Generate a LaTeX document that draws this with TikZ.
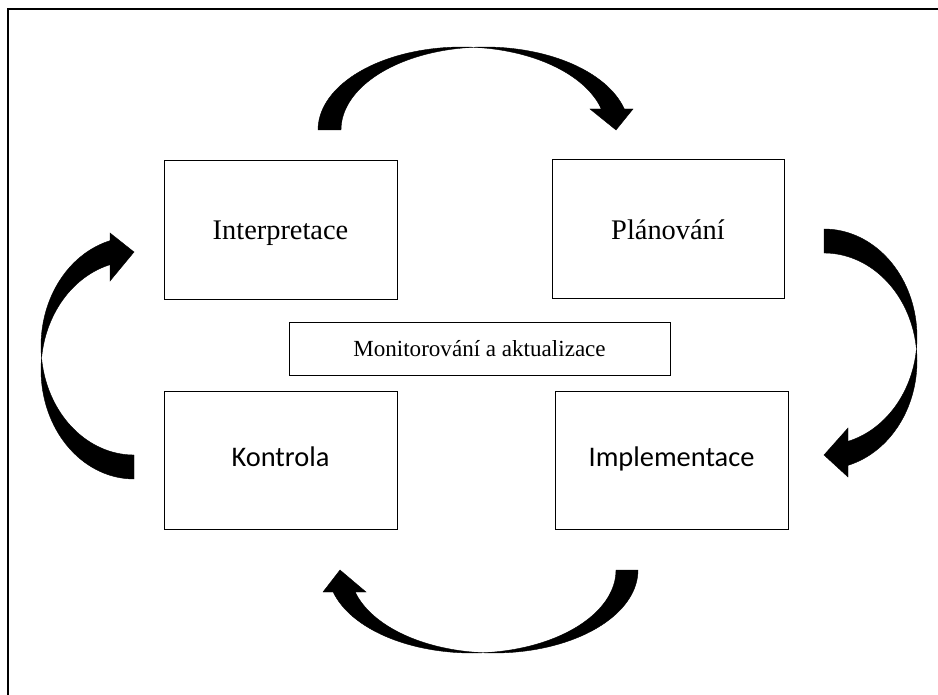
\documentclass[tikz,border=0pt]{standalone}
\usepackage{fontspec}
\setmainfont{Liberation Serif}
\newfontfamily\carlito{Carlito}
\begin{document}
\begin{tikzpicture}[x=0.75pt,y=-0.75pt,samples=40,variable=\t,
  box/.style={draw=black, line width=0.75pt, inner sep=0pt, outer sep=0pt,
    minimum width=174.75pt, minimum height=103.5pt, text depth=0pt,
    font=\fontsize{21.3}{25}\selectfont},
  sansbox/.style={box, text height=9pt, font=\carlito\fontsize{21.3}{25}\selectfont},
  blk/.style={fill=black, draw=black, line width=0.3pt, line join=miter}]
\useasboundingbox (0,0) rectangle (938,695);
% frame (only top and left edges visible)
\draw[line width=1.4pt] (8,700) -- (8,9) -- (945,9);
% boxes
\node[box, text height=15pt] (interp) at (280.5,230) {Interpretace};
\node[box, text height=16.5pt, minimum width=174pt] (plan) at (668,229) {Plánování};
\node[box, text height=12.3pt, minimum width=285.75pt, minimum height=39.75pt,
      font=\fontsize{17.3}{20}\selectfont] (monit) at (479.5,348.5) {Monitorování a aktualizace};
\node[sansbox] (kontr) at (280.5,460) {Kontrola};
\node[sansbox] (impl) at (671.5,460) {Implementace};
% top curved arrow
\fill[blk] (318,130)
 -- plot[domain=180:274.6] ({462+144*cos(\t)},{130+83*sin(\t)})
 -- plot[domain=265.4:345.34] ({485+144*cos(\t)},{130+83*sin(\t)})
 -- (633,109) -- (616,130) -- (590,109)
 -- plot[domain=345.34:274.6] ({462+144*cos(\t)},{130+83*sin(\t)})
 -- plot[domain=265.4:180] ({485+144*cos(\t)},{130+83*sin(\t)})
 -- cycle;
% right curved arrow
\fill[blk] (824,229)
 -- plot[domain=-90:6.38] ({824+93*cos(\t)},{337+108*sin(\t)})
 -- plot[domain=-6.38:75.05] ({824+93*cos(\t)},{361+108*sin(\t)})
 -- (848,477) -- (824,455) -- (848,428)
 -- plot[domain=75.05:6.38] ({824+93*cos(\t)},{337+108*sin(\t)})
 -- plot[domain=-6.38:-90] ({824+93*cos(\t)},{361+108*sin(\t)})
 -- cycle;
% left curved arrow
\fill[blk] (134,479)
 -- plot[domain=90:186.32] ({134+93*cos(\t)},{370+109*sin(\t)})
 -- plot[domain=173.68:255.05] ({134+93*cos(\t)},{346+109*sin(\t)})
 -- (110,233) -- (134,252) -- (110,281)
 -- plot[domain=255.05:186.32] ({134+93*cos(\t)},{370+109*sin(\t)})
 -- plot[domain=173.68:90] ({134+93*cos(\t)},{346+109*sin(\t)})
 -- cycle;
% bottom curved arrow
\fill[blk] (638,570)
 -- plot[domain=0:94.38] ({494+144*cos(\t)},{570+83*sin(\t)})
 -- plot[domain=85.62:164.63] ({472+144*cos(\t)},{570+83*sin(\t)})
 -- (323,592) -- (340,570) -- (366,592)
 -- plot[domain=164.63:94.38] ({494+144*cos(\t)},{570+83*sin(\t)})
 -- plot[domain=85.62:0] ({472+144*cos(\t)},{570+83*sin(\t)})
 -- cycle;
\end{tikzpicture}
\end{document}
